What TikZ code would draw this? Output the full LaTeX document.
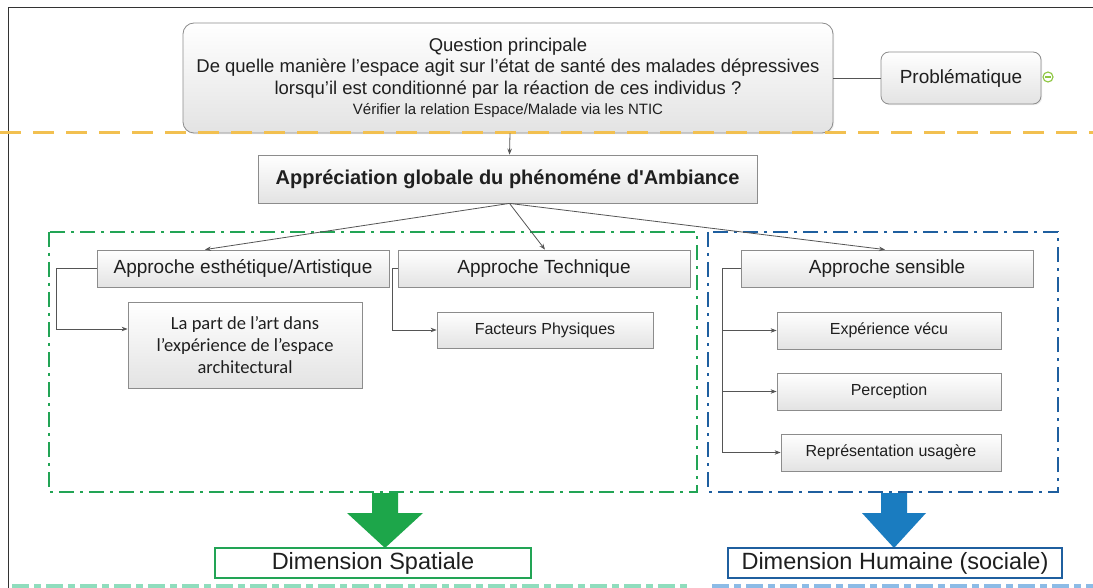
\documentclass[tikz,border=0pt]{standalone}
\usepackage{fontspec}
\setmainfont{Liberation Sans}[Ligatures=TeXOff]
\newfontfamily\calib{Carlito}
\usetikzlibrary{arrows.meta,shadows,calc}
\definecolor{boxborder}{HTML}{8C8C8C}
\definecolor{conncol}{HTML}{555555}
\definecolor{goldline}{HTML}{F2C050}
\definecolor{grn}{HTML}{22A455}
\definecolor{grnarrow}{HTML}{1DA64A}
\definecolor{blu}{HTML}{1F5F9F}
\definecolor{bluarrow}{HTML}{1A7CC0}
\definecolor{palegrn}{HTML}{8FDDBD}
\definecolor{paleblu}{HTML}{8CBBE6}
\definecolor{frame}{HTML}{333333}
\definecolor{minusgrn}{HTML}{8DC63F}
\tikzset{
  gbox/.style={draw=boxborder, line width=0.8pt, top color=white, bottom color=gray!22,
    drop shadow={opacity=0.14, shadow xshift=1.2pt, shadow yshift=-1.2pt},
    inner sep=0pt, align=center, text=black!88},
  rbox/.style={gbox, rounded corners=11pt},
  bigfont/.style={font=\fontsize{19}{22}\selectfont},
  smallfont/.style={font=\fontsize{16}{19}\selectfont},
  conn/.style={draw=conncol, line width=0.8pt},
  arr/.style={conn, -{Stealth[length=6pt,width=4.5pt]}},
  zone/.style={line width=1.8pt, dash pattern=on 15pt off 6pt on 3pt off 6pt},
  dimbox/.style={line width=2pt, fill=white, inner sep=0pt, minimum height=30pt, font=\fontsize{23.5}{26}\selectfont, text=black!88},
}
\begin{document}
\begin{tikzpicture}[x=1pt,y=-1pt]
\useasboundingbox (0,0) rectangle (1093,588);
\fill[white] (0,0) rectangle (1093,588);
% frame
\draw[frame, line width=1.4pt] (1093,7.5) -- (8.5,7.5) -- (8.5,588);
% zones
\draw[zone, grn] (49,232) rectangle (697,492);
\draw[zone, blu] (708,232) rectangle (1058,492);
% question
\node[rbox, minimum width=650pt, minimum height=110pt, font=\fontsize{18.5}{21.5}\selectfont] (q) at (508,78)
  {Question principale\\De quelle manière l’espace agit sur l’état de santé des malades dépressives\\lorsqu’il est conditionné par la réaction de ces individus ?\\[-1pt]
   {\fontsize{15}{17}\selectfont Vérifier la relation Espace/Malade via les NTIC}};
\node[rbox, rounded corners=8pt, minimum width=160pt, minimum height=52pt, font=\fontsize{19}{22}\selectfont] (prob) at (961,78) {Problématique};
\node[circle, draw=minusgrn, line width=1.1pt, fill=white, minimum size=10pt, inner sep=0pt] (mc) at (1048,77) {};
\draw[minusgrn, line width=1.3pt] ([xshift=-2.8pt]mc.center) -- ([xshift=2.8pt]mc.center);
\draw[conn] (q.east |- prob.west) -- (prob.west);
% golden dashed line
\draw[goldline, line width=3pt, dash pattern=on 21pt off 12pt] (0,133) -- (1093,133);
% appreciation
\node[gbox, minimum width=499pt, minimum height=48pt, font=\bfseries\fontsize{20}{22}\selectfont] (app) at (507.5,179) {Appréciation globale du phénoméne d'Ambiance};
\draw[arr] ([xshift=2pt]q.south) -- ([xshift=2pt]app.north);
% approaches
\node[gbox, bigfont, minimum width=292pt, minimum height=37pt] (esth) at (243,268.5) {Approche esthétique/Artistique};
\node[gbox, bigfont, minimum width=292pt, minimum height=37pt] (tech) at (544,268.5) {Approche Technique};
\node[gbox, bigfont, minimum width=292pt, minimum height=37pt] (sens) at (887,268.5) {Approche sensible};
\draw[arr] ([xshift=2pt]app.south) -- ([xshift=-38pt]esth.north);
\draw[arr] ([xshift=2pt]app.south) -- ([xshift=1pt]tech.north);
\draw[arr] ([xshift=2pt]app.south) -- ([xshift=-2pt]sens.north);
% sub boxes
\node[gbox, minimum width=234pt, minimum height=86pt, font=\calib\fontsize{18.5}{22}\selectfont] (art) at (245,345)
  {La part de l’art dans\\l’expérience de l’espace\\architectural};
\node[gbox, smallfont, minimum width=216pt, minimum height=36pt] (fact) at (545,330) {Facteurs Physiques};
\node[gbox, smallfont, minimum width=224pt, minimum height=37pt] (exp) at (889,330.5) {Expérience vécu};
\node[gbox, smallfont, minimum width=224pt, minimum height=37pt] (perc) at (889,391.5) {Perception};
\node[gbox, smallfont, minimum width=220pt, minimum height=37pt] (rep) at (891,452.5) {Représentation usagère};
% elbow connectors
\draw[arr] (esth.west) -- ++(-40,0) |- ([yshift=16pt]art.west);
\draw[arr] (tech.west) -- ++(-5,0) |- (fact.west);
\draw[conn] (sens.west) -- ++(-18,0) coordinate (sv) -- (sv |- rep.west);
\draw[arr] (sv |- exp.west) -- (exp.west);
\draw[arr] (sv |- perc.west) -- (perc.west);
\draw[arr] (sv |- rep.west) -- (rep.west);
% big arrows
\fill[grnarrow] (372,493) -- (398,493) -- (398,513) -- (423,513) -- (385,548) -- (347,513) -- (372,513) -- cycle;
\fill[bluarrow] (881,493) -- (907,493) -- (907,513) -- (926,513) -- (894,548) -- (862,513) -- (881,513) -- cycle;
% dimension boxes
\node[dimbox, draw=grn, minimum width=316pt] (ds) at (373,563) {Dimension Spatiale};
\node[dimbox, draw=blu, minimum width=334pt] (dh) at (895,563) {Dimension Humaine (sociale)};
% pale bottom dashes
\draw[palegrn, line width=5pt, dash pattern=on 17pt off 5pt on 7pt off 5pt] (12,586) -- (690,586);
\draw[paleblu, line width=5pt, dash pattern=on 17pt off 5pt on 7pt off 5pt] (712,586) -- (1093,586);
\end{tikzpicture}
\end{document}
